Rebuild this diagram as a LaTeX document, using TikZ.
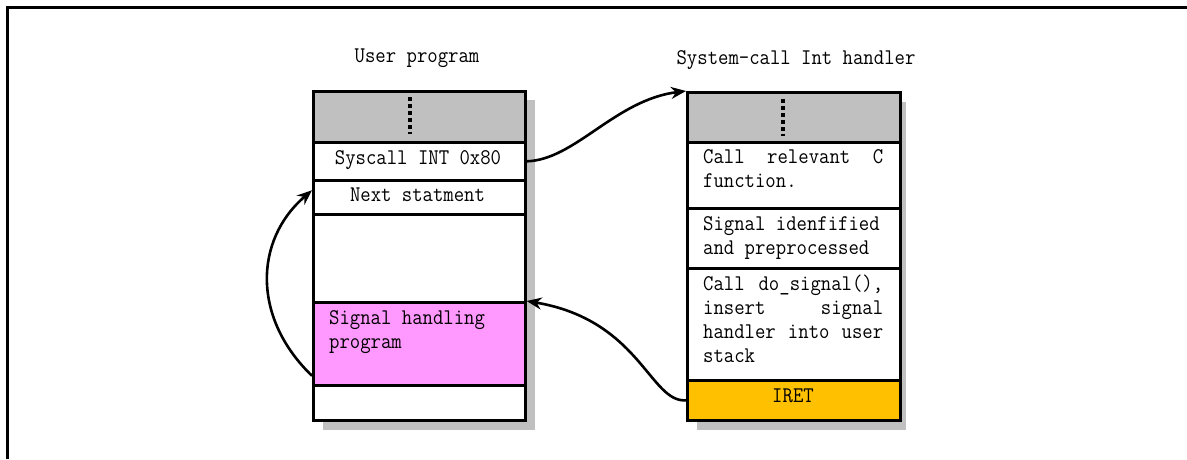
\documentclass[tikz,border=0pt]{standalone}
\usepackage{fontspec}
\newfontfamily\cfont[FakeStretch=0.9]{Latin Modern Mono}
\usetikzlibrary{arrows.meta}
\definecolor{boxgray}{HTML}{C0C0C0}
\definecolor{pinkfill}{HTML}{FF99FF}
\definecolor{iretfill}{HTML}{FFC000}
\newcommand{\jline}[1]{\hbox to 180pt{#1}}
\begin{document}
\begin{tikzpicture}[x=1pt, y=-1pt,
  txt/.style={font=\cfont\fontsize{22.4}{24}\selectfont, inner sep=0pt},
  row/.style={draw, line width=2.6pt, minimum width=212pt, inner sep=0pt, anchor=north west},
  rrow/.style={row, minimum width=213pt},
  conn/.style={line width=2.6pt, -{Stealth[length=15pt,width=12pt]}},
  dots/.style={line width=3.5pt, dash pattern=on 3.5pt off 3.5pt},
  shadowbox/.style={fill=boxgray}]
\useasboundingbox (0,0) rectangle (1187,459);
% frame
\draw[line width=3pt, line join=miter] (7,459) -- (7,7) -- (1187,7);
% shadows
\fill[shadowbox] (323,100) rectangle (535,430);
\fill[shadowbox] (697,102) rectangle (906,430);
% left stack
\node[row, fill=boxgray, minimum height=51pt] (lg) at (312,90) {};
\node[row, fill=white, minimum height=38pt] (ls) at (312,141) {};
\node[row, fill=white, minimum height=34pt] (ln) at (312,179) {};
\node[row, fill=white, minimum height=88pt] (le) at (312,213) {};
\node[row, fill=pinkfill, minimum height=83pt] (lp) at (312,301) {};
\node[row, fill=white, minimum height=35pt] (lb) at (312,384) {};
% right stack
\node[rrow, fill=boxgray, minimum height=50pt] (rg) at (686,91) {};
\node[rrow, fill=white, minimum height=66pt] (r1) at (686,141) {};
\node[rrow, fill=white, minimum height=60pt] (r2) at (686,207) {};
\node[rrow, fill=white, minimum height=112pt] (r3) at (686,267) {};
\node[rrow, fill=iretfill, minimum height=40pt] (ri) at (686,379) {};
% dots
\draw[dots] (410,97) -- (410,134);
\draw[dots] (783,99) -- (783,136);
% texts
\node[txt, anchor=base] (t1) at (417,62) {User program};
\node[txt, anchor=base] (t2) at (796,64) {System-call Int handler};
\node[txt, anchor=base] (ts) at (418,164) {Syscall INT 0x80};
\node[txt, anchor=base] (tn) at (417.5,201.5) {Next statment};
\node[txt, anchor=base west] (tp) at (329,324) {\parbox[t]{180pt}{\hbox{Signal handling}\hbox{program}}};
\node[txt, anchor=base west] (tr1) at (703,163) {\parbox[t]{180pt}{\jline{Call\hfill relevant\hfill C}\hbox{function.}}};
\node[txt, anchor=base west] (tr2) at (703,230) {\parbox[t]{180pt}{\hbox{Signal idenfified}\hbox{and preprocessed}}};
\node[txt, anchor=base west] (tr3) at (703,290) {\parbox[t]{180pt}{\jline{Call do\_signal(),}\jline{insert\hfill signal}\jline{handler into user}\hbox{stack}}};
\node[txt, anchor=base] (ti) at (793,402) {IRET};
% connectors
\draw[conn] (ls.east) .. controls (575,160) and (615,100) .. (rg.north west);
\draw[conn] (ri.west) .. controls (650,403) and (640,320) .. (lp.north east);
\draw[conn] ([yshift=-32pt]lp.west) .. controls (252,318) and (254,240) .. ([yshift=7pt]ln.west);
\end{tikzpicture}
\end{document}
